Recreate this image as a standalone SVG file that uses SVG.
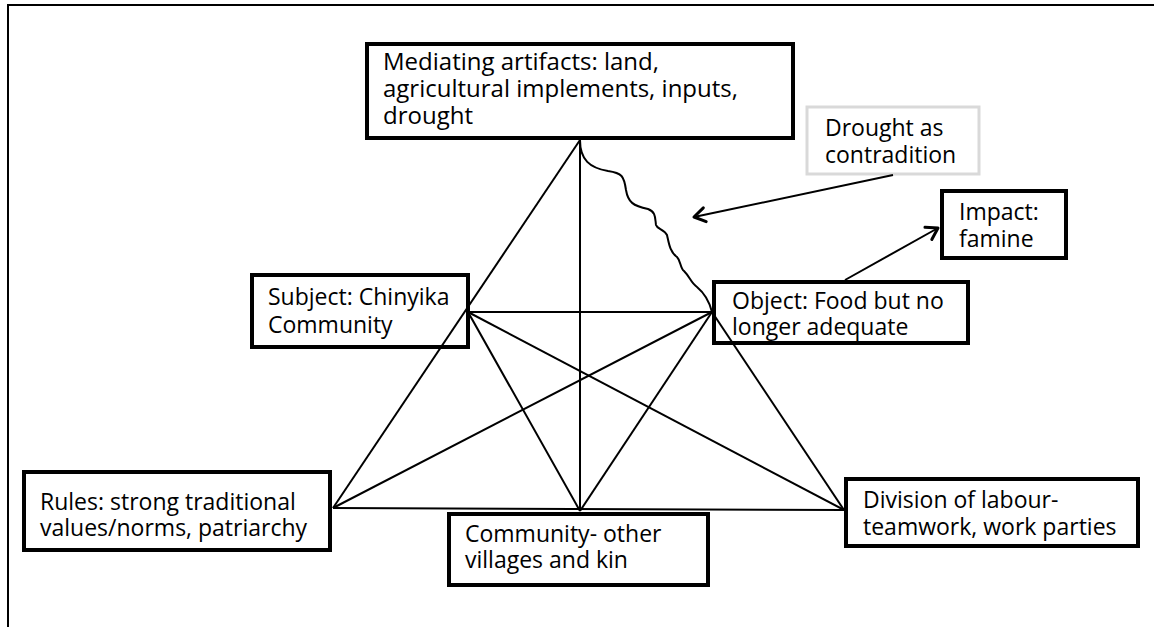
<svg xmlns="http://www.w3.org/2000/svg" width="1154" height="627" viewBox="0 0 1154 627">
  <defs>
    <style>
      .box { fill: #fff; stroke: #000; stroke-width: 4; }
      .soft { fill: #fff; stroke: #d9d9d9; stroke-width: 3; }
      .lbl { font-family: "Open Sans", "Noto Sans", sans-serif; font-size: 23px; fill: #000; }
      .big { font-size: 24px; }
      .ln { fill: none; stroke: #000; stroke-width: 2; }
      .frame { fill: none; stroke: #000; stroke-width: 2; }
    </style>
    <marker id="open-head" markerWidth="20" markerHeight="20" refX="15" refY="10" orient="auto" markerUnits="userSpaceOnUse">
      <polyline points="4,3 15,10 4,17" fill="none" stroke="#000" stroke-width="3" stroke-linecap="round" stroke-linejoin="round"/>
    </marker>
  </defs>

  <rect width="1154" height="627" fill="#fff"/>
  <!-- page frame (top and left edges) -->
  <path class="frame" d="M8,627 V5 H1154"/>

  <g id="mediating">
    <rect class="box" x="367" y="44" width="426" height="94"/>
    <text class="lbl big" x="383" y="70">Mediating artifacts: land,</text>
    <text class="lbl big" x="383" y="97">agricultural implements, inputs,</text>
    <text class="lbl big" x="383" y="124">drought</text>
  </g>

  <g id="drought">
    <rect class="soft" x="807" y="107" width="172" height="67"/>
    <text class="lbl" x="825" y="136">Drought as</text>
    <text class="lbl" x="825" y="163">contradition</text>
  </g>

  <g id="impact">
    <rect class="box" x="942" y="191" width="124" height="67"/>
    <text class="lbl" x="959" y="220">Impact:</text>
    <text class="lbl" x="959" y="247">famine</text>
  </g>

  <g id="subject">
    <rect class="box" x="252" y="275" width="216" height="72"/>
    <text class="lbl" x="268" y="305">Subject: Chinyika</text>
    <text class="lbl" x="268" y="333">Community</text>
  </g>

  <g id="object">
    <rect class="box" x="714" y="282" width="254" height="61"/>
    <text class="lbl" x="732" y="309">Object: Food but no</text>
    <text class="lbl" x="732" y="335">longer adequate</text>
  </g>

  <g id="rules">
    <rect class="box" x="24" y="472" width="306" height="78"/>
    <text class="lbl" x="40" y="510">Rules: strong traditional</text>
    <text class="lbl" x="40" y="536">values/norms, patriarchy</text>
  </g>

  <g id="community">
    <rect class="box" x="449" y="514" width="259" height="71"/>
    <text class="lbl" x="465" y="542">Community- other</text>
    <text class="lbl" x="465" y="568">villages and kin</text>
  </g>

  <g id="division">
    <rect class="box" x="846" y="479" width="292" height="67"/>
    <text class="lbl" x="863" y="508">Division of labour-</text>
    <text class="lbl" x="863" y="535">teamwork, work parties</text>
  </g>

  <g id="connectors">
    <!-- outer triangle sides and base -->
    <line class="ln" x1="580" y1="140" x2="333" y2="508"/>
    <line class="ln" x1="333" y1="508" x2="844" y2="510"/>
    <line class="ln" x1="712" y1="312" x2="844" y2="510"/>
    <!-- wavy tension line from artifacts to object -->
    <path class="ln" d="M580,140 C580,160 590,168 608,171 C622,173 624,176 626,190 C628,202 633,206 648,209 C656,212 655,218 656,225 C657,229 664,229 667,235 C669,244 670,252 677,257 C681,261 680,268 684,271 C690,277 691,283 697,287 C703,292 709,300 712,312"/>
    <!-- inner links -->
    <line class="ln" x1="580" y1="140" x2="580" y2="511"/>
    <line class="ln" x1="468" y1="312" x2="712" y2="312"/>
    <line class="ln" x1="468" y1="312" x2="580" y2="511"/>
    <line class="ln" x1="468" y1="312" x2="844" y2="510"/>
    <line class="ln" x1="712" y1="312" x2="580" y2="511"/>
    <line class="ln" x1="712" y1="312" x2="333" y2="508"/>
    <!-- arrows -->
    <line class="ln" x1="893" y1="175" x2="694" y2="217" marker-end="url(#open-head)"/>
    <line class="ln" x1="845" y1="280" x2="938" y2="228" marker-end="url(#open-head)"/>
  </g>
</svg>
